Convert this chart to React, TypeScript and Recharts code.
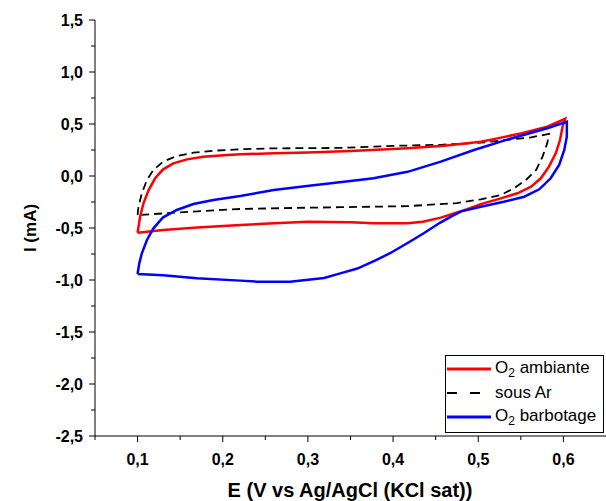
import React from 'react';
import { LineChart, Line, XAxis, YAxis } from 'recharts';

// Cyclic voltammograms, E (V) and I (mA), in scan order (forward branch, then return branch)
const ambianteE = [0.1, 0.103, 0.107, 0.113, 0.1206, 0.13, 0.142, 0.158, 0.177, 0.201, 0.2206, 0.26, 0.3, 0.35, 0.417, 0.46, 0.503, 0.5226, 0.55, 0.581, 0.602,
  0.599, 0.596, 0.591, 0.583, 0.5735, 0.562, 0.546, 0.5265, 0.503, 0.487, 0.456, 0.435, 0.417, 0.377, 0.35, 0.3, 0.26, 0.2206, 0.17, 0.13, 0.1];
const ambianteI = [-0.545, -0.39, -0.26, -0.135, -0.022, 0.064, 0.122, 0.16, 0.186, 0.199, 0.209, 0.218, 0.226, 0.24, 0.266, 0.29, 0.33, 0.362, 0.41, 0.474, 0.55,
  0.474, 0.346, 0.218, 0.09, -0.022, -0.103, -0.166, -0.215, -0.27, -0.32, -0.4, -0.44, -0.455, -0.455, -0.445, -0.44, -0.455, -0.471, -0.495, -0.519, -0.545];

const argonE = [0.1, 0.101, 0.105, 0.111, 0.1186, 0.13, 0.146, 0.1656, 0.189, 0.2206, 0.26, 0.338, 0.4, 0.456, 0.503, 0.562, 0.583,
  0.581, 0.5755, 0.568, 0.556, 0.542, 0.5265, 0.503, 0.475, 0.417, 0.338, 0.3, 0.2206, 0.162, 0.1147, 0.1];
const argonI = [-0.375, -0.295, -0.166, -0.038, 0.058, 0.138, 0.192, 0.224, 0.243, 0.257, 0.266, 0.27, 0.29, 0.3, 0.32, 0.372, 0.404,
  0.314, 0.186, 0.058, -0.038, -0.118, -0.183, -0.224, -0.26, -0.29, -0.3, -0.305, -0.317, -0.343, -0.368, -0.375];

const barbotageE = [0.1, 0.102, 0.105, 0.111, 0.1186, 0.13, 0.146, 0.1656, 0.189, 0.2206, 0.26, 0.299, 0.35, 0.377, 0.417, 0.456, 0.495, 0.534, 0.581, 0.604,
  0.604, 0.601, 0.595, 0.585, 0.5716, 0.554, 0.53, 0.503, 0.48, 0.468, 0.455, 0.436, 0.42, 0.397, 0.38, 0.358, 0.338, 0.319, 0.279, 0.24, 0.2206, 0.1696, 0.13, 0.1];
const barbotageI = [-0.942, -0.84, -0.743, -0.615, -0.503, -0.397, -0.327, -0.269, -0.231, -0.192, -0.135, -0.096, -0.048, -0.022, 0.04, 0.138, 0.25, 0.35, 0.459, 0.522,
  0.378, 0.25, 0.106, -0.022, -0.128, -0.199, -0.247, -0.295, -0.34, -0.39, -0.45, -0.55, -0.63, -0.74, -0.81, -0.89, -0.936, -0.98, -1.016, -1.016, -1.006, -0.984, -0.955, -0.942];

const xTicks = [0.05, 0.1, 0.15, 0.2, 0.25, 0.3, 0.35, 0.4, 0.45, 0.5, 0.55, 0.6];
const yTicks = [-2.5, -2.25, -2.0, -1.75, -1.5, -1.25, -1.0, -0.75, -0.5, -0.25, 0, 0.25, 0.5, 0.75, 1.0, 1.25, 1.5];

const zip = (e: number[], i: number[]) => e.map((v, k) => ({ E: v, I: i[k] }));

const FONT = 'Arial, "Liberation Sans", sans-serif';

const isMajor = (v: number, step: number) => Math.abs(v / step - Math.round(v / step)) < 1e-6;
const fmt = (v: number) => v.toFixed(1).replace('.', ',');

const XTick = (props: any) => {
  const { x, y, payload } = props;
  const major = isMajor(payload.value, 0.1);
  return (
    <g>
      <line x1={x} y1={y} x2={x} y2={y + (major ? 6 : 4)} stroke="#000" strokeWidth={1} />
      {major && (
        <text x={x} y={y + 23} textAnchor="middle" dominantBaseline="central"
          fontFamily={FONT} fontWeight="bold" fontSize={16} fill="#000">{fmt(payload.value)}</text>
      )}
    </g>
  );
};

const YTick = (props: any) => {
  const { x, y, payload } = props;
  const major = isMajor(payload.value, 0.5);
  return (
    <g>
      <line x1={x - (major ? 6 : 4)} y1={y} x2={x} y2={y} stroke="#000" strokeWidth={1} />
      {major && (
        <text x={x - 12} y={y} textAnchor="end" dominantBaseline="central"
          fontFamily={FONT} fontWeight="bold" fontSize={16} fill="#000">{fmt(payload.value)}</text>
      )}
    </g>
  );
};

const legendItems = [
  { label: 'ambiante', o2: true, color: '#ff0000', dash: undefined, width: 3 },
  { label: 'sous Ar', o2: false, color: '#000000', dash: '10 13', width: 2 },
  { label: 'barbotage', o2: true, color: '#0000ff', dash: undefined, width: 3 },
];

const ChartLegend = () => (
  <div style={{ position: 'absolute', left: 445, top: 355, width: 159, height: 78, border: '1px solid #000', background: '#fff', fontFamily: FONT, fontSize: 17, boxSizing: 'border-box' }}>
    {legendItems.map((it, k) => (
      <div key={it.label} style={{ position: 'absolute', left: 0, top: 1 + k * 24, height: 24, display: 'flex', alignItems: 'center', whiteSpace: 'nowrap' }}>
        <svg width={46} height={10} style={{ marginLeft: 1, marginRight: 2 }}>
          <line x1={0} y1={5} x2={44} y2={5} stroke={it.color} strokeWidth={it.width} strokeDasharray={it.dash} />
        </svg>
        <span>
          {it.o2 ? <>O<sub style={{ fontSize: 12 }}>2</sub> </> : null}
          {it.label}
        </span>
      </div>
    ))}
  </div>
);

export default function App() {
  return (
    <div style={{ position: 'absolute', left: 0, top: 0, width: 606, height: 501, background: '#fff' }}>
      <LineChart width={606} height={501} margin={{ top: 20, right: 0, left: 35, bottom: 25 }}>
        <XAxis dataKey="E" type="number" domain={[0.05, 0.65]} ticks={xTicks} allowDataOverflow
          tickSize={0} tickMargin={0} tick={<XTick />} height={40} interval={0}
          axisLine={{ stroke: '#000', strokeWidth: 1 }} />
        <YAxis dataKey="I" type="number" domain={[-2.5, 1.5]} ticks={yTicks} allowDataOverflow
          tickSize={0} tickMargin={0} tick={<YTick />} width={60} interval={0}
          axisLine={{ stroke: '#000', strokeWidth: 1 }} />
        <Line data={zip(argonE, argonI)} dataKey="I" name="sous Ar" type="linear" stroke="#000" strokeWidth={1.8}
          strokeDasharray="8 5" dot={false} isAnimationActive={false} />
        <Line data={zip(ambianteE, ambianteI)} dataKey="I" name="O2 ambiante" type="linear" stroke="#ff0000" strokeWidth={2.5}
          dot={false} isAnimationActive={false} />
        <Line data={zip(barbotageE, barbotageI)} dataKey="I" name="O2 barbotage" type="linear" stroke="#0000ff" strokeWidth={2.5}
          dot={false} isAnimationActive={false} />
      </LineChart>
      <ChartLegend />
      <div style={{ position: 'absolute', left: 31, top: 228, transform: 'translate(-50%, -50%) rotate(-90deg)', fontFamily: FONT, fontWeight: 'bold', fontSize: 17, whiteSpace: 'nowrap' }}>
        I (mA)
      </div>
      <div style={{ position: 'absolute', left: 350, top: 490, transform: 'translate(-50%, -50%)', fontFamily: FONT, fontWeight: 'bold', fontSize: 20, whiteSpace: 'nowrap' }}>
        E (V vs Ag/AgCl (KCl sat))
      </div>
    </div>
  );
}
